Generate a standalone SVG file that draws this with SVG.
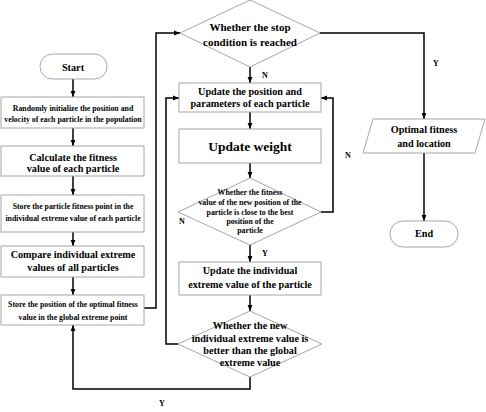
<svg xmlns="http://www.w3.org/2000/svg" width="486" height="412" viewBox="0 0 486 412">
<style>
.s{fill:#fff;stroke:#a6a6a6;stroke-width:1}
.c{fill:none;stroke:#000;stroke-width:1.5}
text{font-family:"Liberation Serif","Times New Roman",serif;font-weight:bold;fill:#000;text-anchor:middle}
.t8{font-size:7.8px}
.t10{font-size:10.2px}
.t11{font-size:11px}
.t13{font-size:13.5px}
.l{font-size:8px}
</style>
<defs>
<marker id="a" viewBox="0 0 10 10" refX="10" refY="5" markerWidth="6" markerHeight="6" orient="auto" markerUnits="userSpaceOnUse">
<path d="M0,1 L10,5 L0,9 z" fill="#000"/>
</marker>
</defs>
<rect width="486" height="412" fill="#fff"/>
<g id="connectors">
<path class="c" d="M73,79 V97" marker-end="url(#a)"/>
<path class="c" d="M73,128 V146" marker-end="url(#a)"/>
<path class="c" d="M73,176 V195" marker-end="url(#a)"/>
<path class="c" d="M73,232 V246" marker-end="url(#a)"/>
<path class="c" d="M73,277 V295" marker-end="url(#a)"/>
<path class="c" d="M144,308 H156 V33 H180" marker-end="url(#a)"/>
<path class="c" d="M250,67 V83" marker-end="url(#a)"/>
<path class="c" d="M250,112 V129" marker-end="url(#a)"/>
<path class="c" d="M250,163 V178" marker-end="url(#a)"/>
<path class="c" d="M250,245 V262" marker-end="url(#a)"/>
<path class="c" d="M250,295 V311" marker-end="url(#a)"/>
<path class="c" d="M321,212 H333 V98 H321" marker-end="url(#a)"/>
<path class="c" d="M178,344 H166 V98 H179" marker-end="url(#a)"/>
<path class="c" d="M250,377 V389 H73 V325" marker-end="url(#a)"/>
<path class="c" d="M320,33 H424 V119" marker-end="url(#a)"/>
<path class="c" d="M424,153 V221" marker-end="url(#a)"/>
<text class="l" x="265" y="78">N</text>
<text class="l" x="348" y="158">N</text>
<text class="l" x="182" y="224">N</text>
<text class="l" x="265" y="256">Y</text>
<text class="l" x="436" y="66">Y</text>
<text class="l" x="162" y="406">Y</text>
</g>
<g id="start">
<rect class="s" x="40" y="54" width="67" height="25" rx="12.5"/>
<text class="t10" x="73" y="71">Start</text>
</g>
<g id="init">
<rect class="s" x="1" y="97" width="143" height="31"/>
<text class="t8" x="73" y="111">Randomly initialize the position and</text>
<text class="t8" x="73" y="122">velocity of each particle in the population</text>
</g>
<g id="calc">
<rect class="s" x="1" y="146" width="143" height="30"/>
<text class="t10" x="73" y="161">Calculate the fitness</text>
<text class="t10" x="73" y="172">value of each particle</text>
</g>
<g id="store1">
<rect class="s" x="1" y="195" width="143" height="37"/>
<text class="t8" x="73" y="209">Store the particle fitness point in the</text>
<text class="t8" x="73" y="221">individual extreme value of each particle</text>
</g>
<g id="compare">
<rect class="s" x="1" y="246" width="143" height="31"/>
<text class="t10" x="73" y="258">Compare individual extreme</text>
<text class="t10" x="73" y="271">values of all particles</text>
</g>
<g id="store2">
<rect class="s" x="1" y="295" width="143" height="30"/>
<text class="t8" x="73" y="307">Store the position of the optimal fitness</text>
<text class="t8" x="73" y="320">value in the global extreme point</text>
</g>
<g id="stopcond">
<polygon class="s" points="250,0 320,33 250,67 180,33"/>
<text class="t11" x="250" y="31">Whether the stop</text>
<text class="t11" x="250" y="46">condition is reached</text>
</g>
<g id="updatepos">
<rect class="s" x="179" y="83" width="142" height="29"/>
<text class="t10" x="250" y="95">Update the position and</text>
<text class="t10" x="250" y="107">parameters of each particle</text>
</g>
<g id="updateweight">
<rect class="s" x="179" y="129" width="142" height="34"/>
<text class="t13" x="250" y="151">Update weight</text>
</g>
<g id="close">
<polygon class="s" points="250,178 321,212 250,245 178,212"/>
<text class="t8" x="250" y="195">Whether the fitness</text>
<text class="t8" x="250" y="205">value of the new position of the</text>
<text class="t8" x="250" y="215">particle is close to the best</text>
<text class="t8" x="250" y="224">position of the</text>
<text class="t8" x="250" y="233">particle</text>
</g>
<g id="updateind">
<rect class="s" x="179" y="262" width="142" height="33"/>
<text class="t10" x="250" y="274">Update the individual</text>
<text class="t10" x="250" y="288">extreme value of the particle</text>
</g>
<g id="better">
<polygon class="s" points="250,311 322,344 250,377 178,344"/>
<text class="t10" x="250" y="329">Whether the new</text>
<text class="t10" x="250" y="342">individual extreme value is</text>
<text class="t10" x="250" y="354">better than the global</text>
<text class="t10" x="250" y="366">extreme value</text>
</g>
<g id="optimal">
<polygon class="s" points="373,119 485,119 475,153 363,153"/>
<text class="t10" x="424" y="133">Optimal fitness</text>
<text class="t10" x="424" y="147">and location</text>
</g>
<g id="end">
<rect class="s" x="390" y="221" width="68" height="26" rx="13"/>
<text class="t10" x="424" y="237">End</text>
</g>
</svg>
